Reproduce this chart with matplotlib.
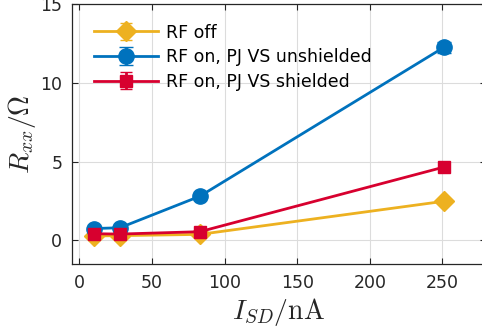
import matplotlib
matplotlib.use("Agg")
import matplotlib.pyplot as plt

# measured data
i_sd = [10, 28, 83, 251]
r_off = [0.28, 0.3, 0.38, 2.48]
r_off_err = [0.05, 0.05, 0.05, 0.05]
r_unsh = [0.75, 0.8, 2.8, 12.25]
r_unsh_err = [0.08, 0.08, 0.1, 0.35]
r_sh = [0.42, 0.4, 0.55, 4.65]
r_sh_err = [0.06, 0.06, 0.06, 0.1]

labels = ["RF off", "RF on, PJ VS unshielded", "RF on, PJ VS shielded"]
xticks = [0, 50, 100, 150, 200, 250]
yticks = [0, 5, 10, 15]

plt.rcParams["mathtext.fontset"] = "cm"
plt.rcParams["font.family"] = ["DejaVu Sans"]

fig = plt.figure(figsize=(4.82, 3.29), dpi=100)
ax = fig.add_axes([72 / 482, 65 / 329, 414 / 482, 260 / 329])

colors = {
    "off": "#EDB120",
    "unsh": "#0072BD",
    "sh": "#D7002F",
}

lw = 2.0
ax.errorbar(i_sd, r_off, yerr=r_off_err, color=colors["off"], marker="D",
            markersize=10, linewidth=lw, capsize=4, elinewidth=lw,
            label=labels[0], zorder=3)
ax.errorbar(i_sd, r_unsh, yerr=r_unsh_err, color=colors["unsh"], marker="o",
            markersize=11, linewidth=lw, capsize=5, elinewidth=lw,
            label=labels[1], zorder=3)
ax.errorbar(i_sd, r_sh, yerr=r_sh_err, color=colors["sh"], marker="s",
            markersize=9, linewidth=lw, capsize=4, elinewidth=lw,
            label=labels[2], zorder=4)

ax.set_xlim(-5, 280)
ax.set_ylim(-1.5, 15)
ax.set_xticks(xticks)
ax.set_yticks(yticks)
ax.grid(True, color="#dcdcdc", linewidth=0.8)
ax.set_axisbelow(True)
ax.tick_params(direction="in", top=True, right=True, length=4,
               labelsize=12.5, colors="#262626", width=0.8, pad=7)
for s in ax.spines.values():
    s.set_color("#262626")
    s.set_linewidth(0.9)

ax.set_xlabel(r"$I_{SD}/\mathrm{nA}$", fontsize=20, color="#262626", labelpad=3)
ax.set_ylabel(r"$R_{xx}/\Omega$", fontsize=20, color="#262626", labelpad=2)

ax.legend(loc="upper left", frameon=False, fontsize=12.5, handlelength=3.7,
          handletextpad=0.45, labelspacing=0.38, borderaxespad=0.5,
          bbox_to_anchor=(0.015, 0.985))

fig.savefig("out.png", dpi=100)
